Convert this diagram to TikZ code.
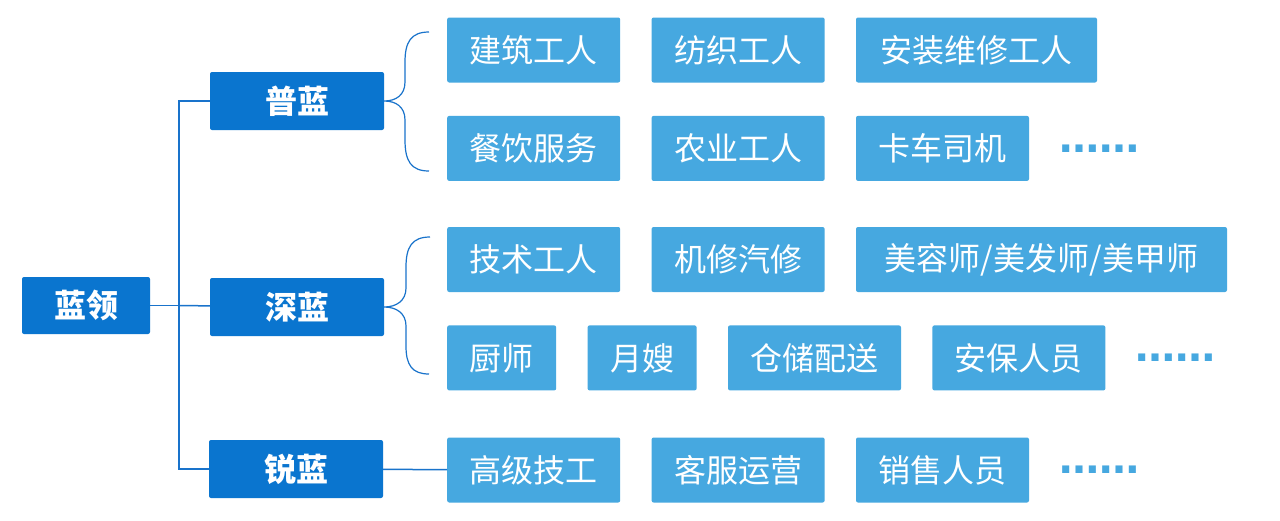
\documentclass[tikz,border=0pt]{standalone}
\usepackage{fontspec}
\setmainfont{Noto Sans CJK SC}
\newfontfamily\dotfont{DejaVu Sans}
\usetikzlibrary{positioning}
\definecolor{darkblue}{RGB}{10,117,207}
\definecolor{lightblue}{RGB}{70,168,224}
\definecolor{linkblue}{RGB}{25,115,203}
\tikzstyle{category}=[
	rectangle,
	rounded corners=2pt,
	fill=darkblue,
	text=white,
	font=\fontsize{32}{32}\selectfont\bfseries,
	minimum width=174pt,
	minimum height=58pt,
	inner sep=0pt
]
\tikzstyle{occupation}=[
	rectangle,
	rounded corners=2pt,
	fill=lightblue,
	text=white,
	font=\fontsize{32}{32}\selectfont,
	inner xsep=22.5pt,
	inner ysep=0pt,
	minimum height=65pt,
	node distance=33pt and 31pt
]
\tikzstyle{etc}=[
	text=lightblue,
	font=\dotfont\bfseries\fontsize{40}{40}\selectfont,
	inner sep=0pt,
	node distance=30pt
]
\tikzstyle{link}=[
	draw=linkblue,
	line width=1.5pt
]
\tikzstyle{brace}=[
	draw=linkblue,
	line width=1.2pt
]

\begin{document}
\begin{tikzpicture}[x=1pt,y=-1pt]
\fill [white] (0,0) rectangle (1280,520);
\useasboundingbox (0,0) rectangle (1280,520);

\node [category, minimum width=128pt, minimum height=57pt] (Lanling) at (86,305.5) {蓝领};
\node [category] (Pulan) at (297,101) {普蓝};
\node [category] (Shenlan) at (297,307) {深蓝};
\node [category] (Ruilan) at (296,469) {锐蓝};

\coordinate (Trunk) at (179,305.5);
\draw [link] (Lanling) -- (Trunk) |- (Pulan);
\draw [link] (Trunk) -- (Shenlan);
\draw [link] (Trunk) |- (Ruilan);

% 普蓝
\node [occupation, anchor=west] (Jianzhu) at (447,50) {建筑工人};
\node [occupation, right=of Jianzhu] (Fangzhi) {纺织工人};
\node [occupation, right=of Fangzhi, minimum width=241pt] (Anzhuang) {安装维修工人};
\node [occupation, below=of Jianzhu] (Canyin) {餐饮服务};
\node [occupation, right=of Canyin] (Nongye) {农业工人};
\node [occupation, right=of Nongye] (Kache) {卡车司机};
\node [etc, right=of Kache] (EtcPu) {……};

% 深蓝
\node [occupation, anchor=west] (Jishu) at (447,259.5) {技术工人};
\node [occupation, right=of Jishu] (Jixiu) {机修汽修};
\node [occupation, right=of Jixiu, minimum width=371pt] (Meirong) {美容师/美发师/美甲师};
\node [occupation, below=of Jishu.south west, anchor=north west] (Chushi) {厨师};
\node [occupation, right=of Chushi] (Yuesao) {月嫂};
\node [occupation, right=of Yuesao] (Cangchu) {仓储配送};
\node [occupation, right=of Cangchu] (Anbao) {安保人员};
\node [etc, right=of Anbao, node distance=26pt] (EtcShen) {……};

% 锐蓝
\node [occupation, anchor=west] (Gaoji) at (447,470) {高级技工};
\node [occupation, right=of Gaoji] (Kefu) {客服运营};
\node [occupation, right=of Kefu] (Xiaoshou) {销售人员};
\node [etc, right=of Xiaoshou] (EtcRui) {……};

\draw [link] (Ruilan) -- (Gaoji);

% braces
\coordinate (PuTop) at (429,32);
\coordinate (PuBottom) at (429,171);
\draw [brace] (PuTop) .. controls (411,32) and (405,42) .. (405,62) -- (405,82)
	.. controls (405,95) and (396,101) .. (Pulan.east)
	.. controls (396,101) and (405,107) .. (405,120) -- (405,140)
	.. controls (405,161) and (411,171) .. (PuBottom);
\coordinate (ShenTop) at (430,237);
\coordinate (ShenBottom) at (429,374);
\draw [brace] (ShenTop) .. controls (412,237) and (406,247) .. (406,267) -- (406,288)
	.. controls (406,301) and (396,307) .. (Shenlan.east)
	.. controls (396,307) and (406,313) .. (406,326) -- (406,346)
	.. controls (406,365) and (412,374) .. (ShenBottom);
\end{tikzpicture}
\end{document}
